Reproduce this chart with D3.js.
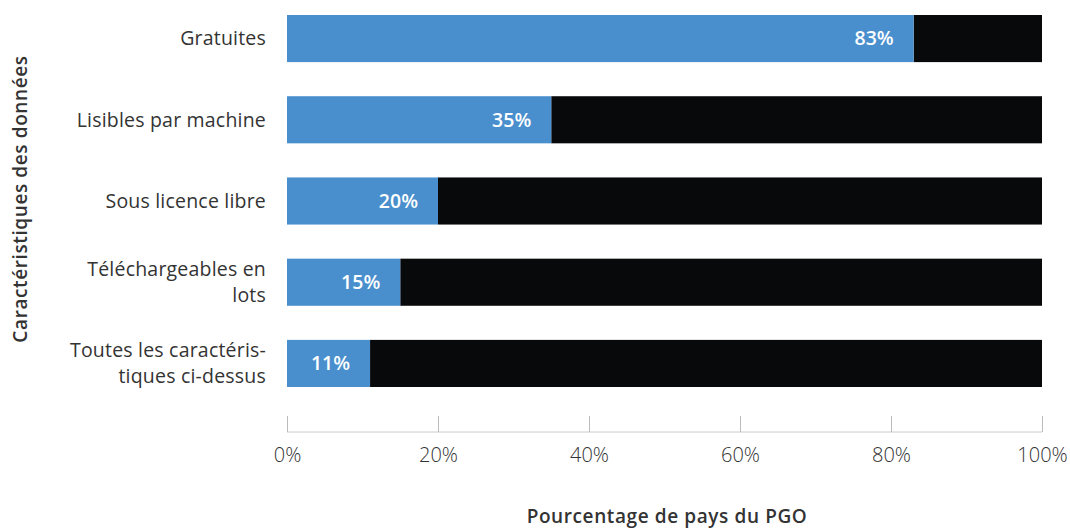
<!DOCTYPE html>
<html>
<head>
<meta charset="utf-8">
<script src="https://cdn.jsdelivr.net/npm/d3@7"></script>
<style>
body { margin: 0; background: #fff; }
svg text { font-family: "Open Sans", Lato, sans-serif; }
</style>
</head>
<body>
<div id="chart"></div>
<script>
var categories = ["Gratuites", "Lisibles par machine", "Sous licence libre",
                  "Téléchargeables en\nlots", "Toutes les caractéris-\ntiques ci-dessus"];
var values = [83, 35, 20, 15, 11];
var xTicks = [0, 20, 40, 60, 80, 100];

var width = 1070, height = 530;

var svg = d3.select("#chart")
            .append("svg")
            .attr("width", width)
            .attr("height", height);

var x = d3.scaleLinear().domain([0, 100]).range([287, 1042]);
var y = d3.scaleBand().domain(categories).range([15, 387]).paddingInner(0.42).paddingOuter(0);

// remainder (black) bars
svg.selectAll("rect.rest")
   .data(values)
 .enter()
   .append("rect")
   .attr("class", "rest")
   .attr("x", function(d) { return x(d); })
   .attr("y", function(d, i) { return y(categories[i]); })
   .attr("width", function(d) { return x(100) - x(d); })
   .attr("height", y.bandwidth())
   .style("fill", "#08090b");

// value (blue) bars
svg.selectAll("rect.val")
   .data(values)
 .enter()
   .append("rect")
   .attr("class", "val")
   .attr("x", x(0))
   .attr("y", function(d, i) { return y(categories[i]); })
   .attr("width", function(d) { return x(d) - x(0); })
   .attr("height", y.bandwidth())
   .style("fill", "#4a8fcd");

// value labels
svg.selectAll("text.val")
   .data(values)
 .enter()
   .append("text")
   .attr("class", "val")
   .attr("x", function(d) { return x(d) - 20; })
   .attr("y", function(d, i) { return y(categories[i]) + y.bandwidth() / 2; })
   .attr("dy", "0.35em")
   .attr("text-anchor", "end")
   .style("fill", "#fff")
   .style("font-size", "19.5px")
   .style("font-weight", 600)
   .text(function(d) { return d + "%"; });

// category labels
var catLabels = svg.selectAll("text.cat")
   .data(categories)
 .enter()
   .append("text")
   .attr("class", "cat")
   .attr("text-anchor", "end")
   .style("fill", "#333")
   .style("font-size", "19.5px")
   .style("letter-spacing", "0.2px")
   .attr("transform", function(d) {
       return "translate(266," + (y(d) + y.bandwidth() / 2) + ")";
   });

catLabels.each(function(d) {
    var lines = d.split("\n");
    var t = d3.select(this);
    lines.forEach(function(line, k) {
        t.append("tspan")
         .attr("x", 0)
         .attr("y", (k - (lines.length - 1) / 2) * 26)
         .attr("dy", "0.35em")
         .text(line);
    });
});

// x axis
var xAxis = d3.axisTop(x)
              .tickValues(xTicks)
              .tickSize(16)
              .tickFormat(function(d) { return d + "%"; });

var gx = svg.append("g")
            .attr("transform", "translate(0,432)")
            .call(xAxis);

gx.select(".domain").attr("stroke", "#ccc").attr("d", "M" + x(0) + ",0H" + x(100));
gx.selectAll(".tick line").attr("stroke", "#bbb");
gx.selectAll(".tick text")
  .attr("y", 23)
  .attr("dy", "0.35em")
  .style("font-family", "'Open Sans', sans-serif")
  .style("font-size", "20px")
  .style("font-weight", 300)
  .style("fill", "#333");

// axis titles
svg.append("text")
   .attr("x", 667)
   .attr("y", 516)
   .attr("dy", "0.35em")
   .attr("text-anchor", "middle")
   .style("font-size", "19px")
   .style("letter-spacing", "0.6px")
   .style("font-weight", 600)
   .style("fill", "#333")
   .text("Pourcentage de pays du PGO");

svg.append("text")
   .attr("transform", "translate(20,199) rotate(-90)")
   .attr("dy", "0.35em")
   .attr("text-anchor", "middle")
   .style("font-size", "19px")
   .style("letter-spacing", "0.6px")
   .style("font-weight", 600)
   .style("fill", "#333")
   .text("Caractéristiques des données");
</script>
</body>
</html>
